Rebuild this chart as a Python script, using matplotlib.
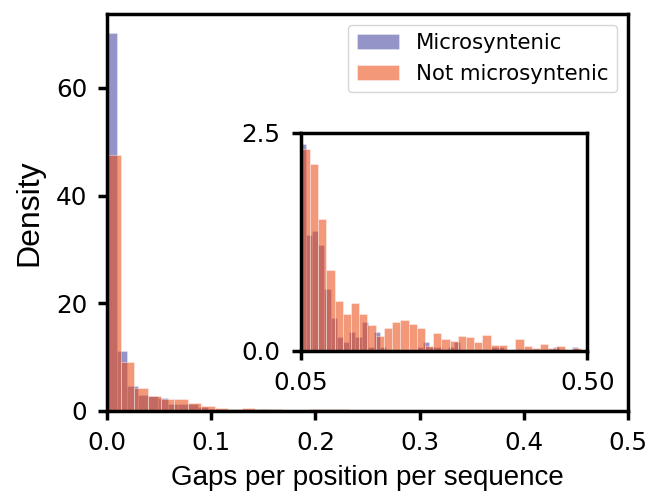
import matplotlib
matplotlib.use("Agg")
import matplotlib.pyplot as plt
import numpy as np

# density per bin (bins start at 0)
micro_width = 0.0097
micro_density = [70.2, 11.2, 4.66, 2.98, 2.8, 2.37, 1.33, 1.37, 1.21, 0.71,
                 0.38, 0.16, 0.10, 0.21, 0.16, 0.33, 0.04, 0.21, 0.04, 0.0,
                 0.0, 0.0, 0.0, 0.0, 0.04, 0.10, 0.04, 0.04, 0.0, 0.04,
                 0.10, 0.0, 0.0, 0.0, 0.0, 0.0, 0.04, 0.04, 0.0, 0.0,
                 0.0, 0.0, 0.0, 0.0, 0.0, 0.0, 0.04, 0.0, 0.0, 0.04]

other_width = 0.0129
other_density = [47.5, 9.07, 4.35, 2.8, 2.31, 2.14, 1.51, 0.93, 0.57, 0.42,
                 0.55, 0.42, 0.30, 0.17, 0.26, 0.33, 0.35, 0.31, 0.26, 0.05,
                 0.20, 0.13, 0.11, 0.17, 0.16, 0.10, 0.18, 0.07, 0.07, 0.0,
                 0.13, 0.05, 0.03, 0.08, 0.03, 0.05, 0.0, 0.03]

labels = ["Microsyntenic", "Not microsyntenic"]
micro_color = "#000080"
other_color = "#eb4912"

micro_left = np.arange(len(micro_density)) * micro_width
other_left = np.arange(len(other_density)) * other_width

tick_size = 17.7
label_font = "Liberation Sans"


def draw(ax, with_labels):
    ax.bar(micro_left, micro_density, width=micro_width, align="edge",
           color=micro_color, alpha=0.42, edgecolor="white", linewidth=0.5,
           label=labels[0] if with_labels else None)
    ax.bar(other_left, other_density, width=other_width, align="edge",
           color=other_color, alpha=0.56, edgecolor="white", linewidth=0.5,
           label=labels[1] if with_labels else None)
    for s in ax.spines.values():
        s.set_linewidth(2.5)
    ax.tick_params(width=2.5, length=6.5, pad=8, labelsize=tick_size)


fig = plt.figure(figsize=(6.51, 4.98), dpi=100)
ax = fig.add_axes([0.1648, 0.1747, 0.7994, 0.7972])
draw(ax, True)
ax.set_xlim(0, 0.5)
ax.set_ylim(0, 73.7)
ax.set_xticks([0.0, 0.1, 0.2, 0.3, 0.4, 0.5])
ax.set_yticks([0, 20, 40, 60])
ax.set_xlabel("Gaps per position per sequence", fontsize=20, family=label_font,
              labelpad=7)
ax.set_ylabel("Density", fontsize=23, family=label_font, labelpad=8)
ax.legend(loc="upper right", fontsize=15.3)

ins = fig.add_axes([0.4619, 0.2958, 0.4402, 0.4378])
draw(ins, False)
ins.set_xlim(0.05, 0.5)
ins.set_ylim(0, 2.5)
ins.set_xticks([0.05, 0.5])
ins.set_xticklabels(["0.05", "0.50"])
ins.set_yticks([0, 2.5])
ins.set_yticklabels(["0.0", "2.5"])

fig.savefig("out.png", dpi=100)
